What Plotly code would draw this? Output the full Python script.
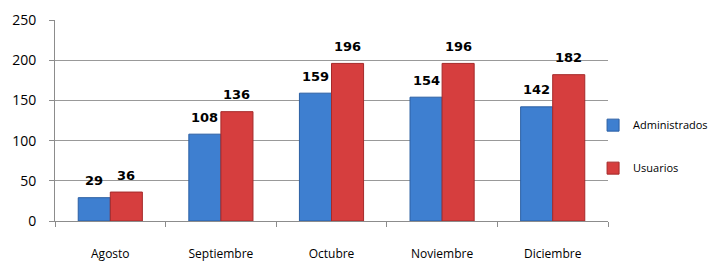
import plotly.graph_objects as go

meses = ["Agosto", "Septiembre", "Octubre", "Noviembre", "Diciembre"]
administrados = [29, 108, 159, 154, 142]
usuarios = [36, 136, 196, 196, 182]
y_ticks = [0, 50, 100, 150, 200, 250]

font = "'Open Sans', sans-serif"
label_font = dict(size=13, color="black", family="'DejaVu Sans', sans-serif", weight="bold")

fig = go.Figure()
fig.add_trace(go.Bar(
    x=meses, y=administrados, name="Administrados",
    marker=dict(color="#3e7fd0", line=dict(color="#2b5fa3", width=1)),
    legendgroup="a",
))
fig.add_trace(go.Bar(
    x=meses, y=usuarios, name="Usuarios",
    marker=dict(color="#d63e3e", line=dict(color="#a52a2a", width=1)),
    legendgroup="b",
))

# value labels above each bar (offset to sit over the grouped bars)
for series, shift in ((administrados, -16), (usuarios, 16)):
    for m, v in zip(meses, series):
        fig.add_annotation(x=m, y=v, text=str(v), showarrow=False,
                           xshift=shift, yshift=17, font=label_font)

fig.update_layout(
    width=716, height=263,
    margin=dict(l=47, r=116, t=12, b=50, autoexpand=False),
    paper_bgcolor="white", plot_bgcolor="white",
    barmode="group", bargap=0.42, bargroupgap=0,
    font=dict(family=font, size=12, color="black"),
    showlegend=True,
    legend=dict(x=0.973, y=0.37, xanchor="left", yanchor="middle",
                font=dict(size=11), tracegroupgap=24, itemwidth=30,
                bgcolor="rgba(0,0,0,0)"),
    xaxis=dict(showline=True, linecolor="#8c8c8c", linewidth=1, automargin=False,
               ticks="outside", tickson="boundaries", ticklen=5, tickcolor="#8c8c8c",
               ticklabelstandoff=22, tickfont=dict(size=12)),
    yaxis=dict(range=[0, 250], tickvals=y_ticks, showgrid=True, gridcolor="#999999",
               showline=True, linecolor="#8c8c8c", linewidth=1, zeroline=False,
               automargin=False,
               ticks="outside", ticklen=5, tickcolor="#8c8c8c",
               ticklabelstandoff=10, tickfont=dict(size=14)),
)

fig.write_html("out.html")
